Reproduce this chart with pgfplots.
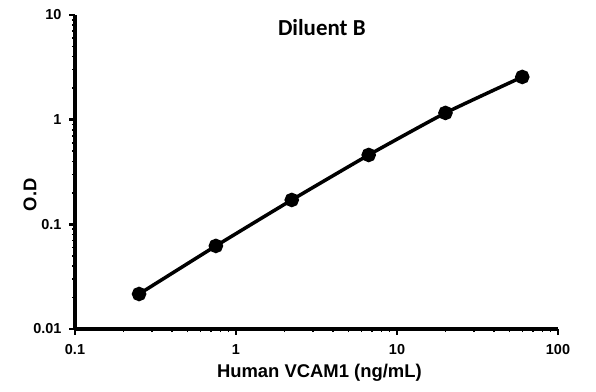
\documentclass[border=0pt]{standalone}
\usepackage{pgfplots}
\pgfplotsset{compat=1.18}
\usepackage{fontspec}
\setmainfont{Liberation Sans}
\newfontfamily\titlefont{Carlito}
\begin{document}
\begin{tikzpicture}
\begin{axis}[
  scale only axis, width=483bp, height=314bp,
  xmode=log, ymode=log,
  xmin=0.1, xmax=100, ymin=0.01, ymax=10,
  axis lines=left, axis line style={-, line width=3.5bp},
  xtick={0.1,1,10,100}, ytick={0.01,0.1,1,10},
  xticklabels={0.1,1,10,100}, yticklabels={0.01,0.1,1,10},
  tick style={black, line width=2.5bp},
  major tick length=6bp, minor tick length=3bp,
  tick align=outside,
  minor tick style={line width=1.5bp},
  ticklabel style={font=\fontsize{14.5}{16}\selectfont\bfseries},
  xticklabel style={yshift=-6bp},
  yticklabel style={xshift=-4bp},
  xlabel={Human VCAM1 (ng/mL)}, ylabel={O.D},
  label style={font=\fontsize{18.5}{20}\selectfont\bfseries},
  xlabel style={at={(axis description cs:0.506,-0.14)}, anchor=center},
  ylabel style={at={(axis description cs:-0.093,0.427)}, anchor=center},
  title={Diluent B}, title style={font=\titlefont\fontsize{23}{25}\selectfont\bfseries, at={(axis description cs:0.511,0.94)}, anchor=center},
  clip=false,
]
\addplot[black, line width=3.5bp, smooth, tension=0.3, mark=*, mark size=5.5bp]
  coordinates {(0.25,0.0216) (0.75,0.0622) (2.22,0.171) (6.67,0.46) (20,1.16) (60,2.56)};
\end{axis}
\pgfresetboundingbox
\path (current axis.south west)++(-75bp,-63bp) rectangle ([xshift=38bp,yshift=15bp]current axis.north east);
\end{tikzpicture}
\end{document}
